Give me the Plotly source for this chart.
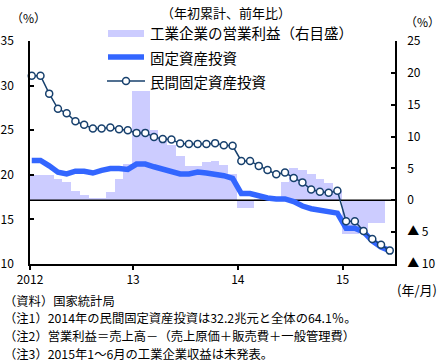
import plotly.graph_objects as go

# ---- data (year-to-date, y/y %) ----
years = [2012, 2013, 2014, 2015]
months = [f"{y}-{m:02d}" for y in years for m in range(1, 13)][:42]

# Fixed asset investment (left axis)
fai = [21.6, 21.6, 21.0, 20.3, 20.1, 20.4, 20.4, 20.2, 20.5, 20.7, 20.7, 20.6,
       21.2, 21.2, 20.9, 20.6, 20.4, 20.1, 20.1, 20.3, 20.2, 20.1, 19.9, 19.6,
       17.9, 17.9, 17.6, 17.4, 17.3, 17.3, 17.0, 16.5, 16.2, 16.0, 15.8, 15.7,
       14.0, 14.0, 13.6, 12.6, 11.9, 11.5]

# Private fixed asset investment (left axis)
private_fai = [31.1, 31.1, 29.1, 27.4, 26.9, 26.0, 25.6, 25.2, 25.2, 25.3, 25.1, 25.0,
               24.7, 24.7, 24.25, 24.0, 23.95, 23.5, 23.45, 23.45, 23.45, 23.55, 23.3, 23.25,
               21.55, 21.55, 21.0, 20.55, 20.05, 20.25, 19.65, 19.15, 18.35, 18.1, 18.0, 18.2,
               14.8, 14.8, 13.7, 12.8, 12.15, 11.5]

# Operating profit of industrial enterprises (right axis); Jun 2015 not released
op_profit = [4.0, 4.0, 3.9, 3.4, 2.8, 1.4, 0.8, 0.4, 0.4, 1.3, 3.3, 5.7,
             17.2, 17.2, 11.0, 10.0, 8.6, 7.0, 5.4, 5.4, 6.0, 6.2, 5.6, 4.2,
             -1.2, -1.2, 0.2, 0.3, 0.3, 2.8, 5.0, 4.8, 4.1, 3.4, 2.7, 1.5,
             -5.3, -5.3, -4.5, -3.6, -3.6, None]

x_tick_labels = ["2012", "13", "14", "15"]
right_ticks = [-10, -5, 0, 5, 10, 15, 20, 25]
right_tick_labels = ["▲ 10", "▲ 5", "0", "5", "10", "15", "20", "25"]

legend_names = ["工業企業の営業利益（右目盛）", "固定資産投資", "民間固定資産投資"]
notes = [
    "（資料）国家統計局",
    "（注1）2014年の民間固定資産投資は32.2兆元と全体の64.1％。",
    "（注2）営業利益＝売上高－（売上原価＋販売費＋一般管理費）",
    "（注3）2015年1～6月の工業企業収益は未発表。",
]

# ---- styling ----
FONT = "Noto Sans CJK JP"
BAR_COLOR = "rgb(204,204,255)"
BLUE = "#3366FF"
NAVY = "#17406D"

W, H = 441, 363
ML, MR, MT, MB = 30, 46, 41, 99
PW, PH = W - ML - MR, H - MT - MB

x = list(range(len(months)))
x_range = [-0.2, 41.6]
x_tickvals = [-0.2, 11.6, 23.6, 35.6]


def px(xp):
    return (xp - ML) / PW


def py(yp):
    return (H - MB - yp) / PH


fig = go.Figure()

# bars on the base (right-hand) axis so the lines sit above them
fig.add_trace(go.Bar(x=x, y=op_profit, marker=dict(color=BAR_COLOR, line=dict(width=0)),
                     yaxis="y", showlegend=False, hoverinfo="skip"))
# zero reference line of the right axis
fig.add_trace(go.Scatter(x=x_range, y=[0, 0], mode="lines", line=dict(color="black", width=1.5),
                         yaxis="y", showlegend=False, hoverinfo="skip", cliponaxis=False))
fig.add_trace(go.Scatter(x=x, y=fai, mode="lines", line=dict(color=BLUE, width=5.5),
                         yaxis="y2", showlegend=False))
fig.add_trace(go.Scatter(x=x, y=private_fai, mode="lines+markers",
                         line=dict(color=NAVY, width=1.5),
                         marker=dict(symbol="circle", size=7, color="white",
                                     line=dict(color=NAVY, width=1.5)),
                         yaxis="y2", showlegend=False, cliponaxis=False))

tickfont = dict(family=FONT, size=12, color="black")

fig.update_layout(
    width=W, height=H,
    margin=dict(l=ML, r=MR, t=MT, b=MB, pad=0),
    paper_bgcolor="white", plot_bgcolor="white",
    bargap=0,
    font=dict(family=FONT, color="black"),
    xaxis=dict(range=x_range, tickmode="array", tickvals=x_tickvals, ticktext=x_tick_labels,
               ticks="outside", ticklen=4, tickwidth=1.5, tickcolor="black",
               showline=True, linecolor="black", linewidth=1.5, automargin=False,
               showgrid=False, zeroline=False, tickfont=tickfont),
    yaxis=dict(range=[-10, 25], side="right", tickmode="array", tickvals=right_ticks,
               ticktext=right_tick_labels, ticks="inside", ticklen=4, tickwidth=1.5,
               tickcolor="black", showline=True, linecolor="black", linewidth=1.5,
               automargin=False, showgrid=False, zeroline=False, tickfont=tickfont,
               ticklabelstandoff=8),
    yaxis2=dict(range=[10, 35], side="left", overlaying="y", dtick=5, tick0=10,
                ticks="inside", ticklen=4, tickwidth=1.5, tickcolor="black",
                showline=True, linecolor="black", linewidth=1.5, automargin=False,
                showgrid=False, zeroline=False, tickfont=tickfont, ticklabelstandoff=12),
)

# ---- legend drawn inside the plot ----
shapes = [
    dict(type="rect", xref="paper", yref="paper", x0=px(108), x1=px(144), y0=py(37), y1=py(30),
         fillcolor=BAR_COLOR, line=dict(width=0)),
    dict(type="line", xref="paper", yref="paper", x0=px(108), x1=px(144), y0=py(57), y1=py(57),
         line=dict(color=BLUE, width=5.5)),
    dict(type="line", xref="paper", yref="paper", x0=px(107), x1=px(145), y0=py(81), y1=py(81),
         line=dict(color=NAVY, width=1.5)),
    dict(type="circle", xref="paper", yref="paper", x0=px(122.5), x1=px(129.5),
         y0=py(84.5), y1=py(77.5), fillcolor="white", line=dict(color=NAVY, width=1.5)),
]
fig.update_layout(shapes=shapes)

annotations = []
for name, yp in zip(legend_names, [33, 57, 81]):
    annotations.append(dict(text=name, xref="paper", yref="paper", x=px(148), y=py(yp),
                            xanchor="left", yanchor="middle", showarrow=False,
                            font=dict(family=FONT, size=14.5, color="black")))

annotations += [
    dict(text="（年初累計、前年比）", x=px(226), y=py(12), font=dict(family=FONT, size=13)),
    dict(text="（%）", x=px(28), y=py(18), font=dict(family=FONT, size=12)),
    dict(text="（%）", x=px(422), y=py(22), font=dict(family=FONT, size=12)),
    dict(text="(年/月)", x=px(417), y=py(289), font=dict(family=FONT, size=13)),
]
for a in annotations[-4:]:
    a.update(xref="paper", yref="paper", xanchor="center", yanchor="middle", showarrow=False)

# source and notes below the chart
for note, yp in zip(notes, [300.6, 318.4, 336.2, 354.0]):
    annotations.append(dict(text=note, xref="paper", yref="paper", x=px(2), y=py(yp),
                            xanchor="left", yanchor="middle", showarrow=False,
                            font=dict(family=FONT, size=12.3, color="black")))

fig.update_layout(annotations=annotations)

fig.write_html("out.html")
